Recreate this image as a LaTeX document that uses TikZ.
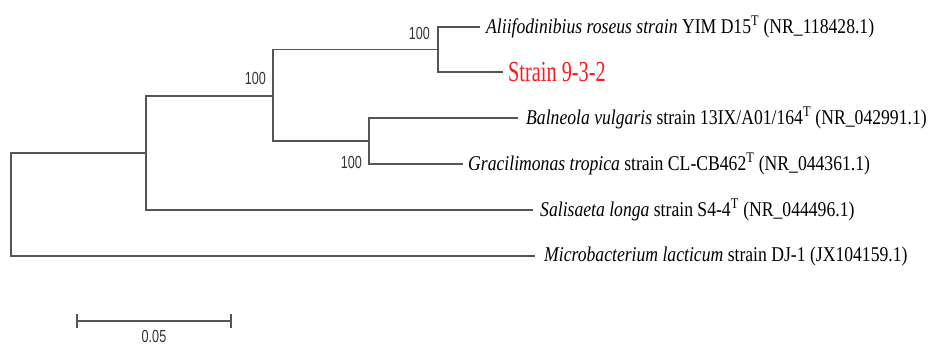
\documentclass[tikz,border=0pt]{standalone}
\usepackage{fontspec}
\setmainfont{Liberation Serif}
\newfontfamily\taxonfont[FakeStretch=0.84]{Liberation Serif}
\newfontfamily\strainfont[FakeStretch=0.70]{Liberation Serif}
\newfontfamily\bootfont[FakeStretch=0.72]{Liberation Sans}
\usepackage{xcolor}
\definecolor{branchgray}{HTML}{555555}
\definecolor{bootgray}{HTML}{333333}
\definecolor{strainred}{HTML}{FF1A1A}
\usetikzlibrary{positioning}
\tikzset{
  branch/.style={draw=branchgray, line width=1.2pt},
  taxon/.style ={anchor=west, inner sep=0pt, text=black, font=\taxonfont\fontsize{21}{21}\selectfont},
  taxonr/.style={anchor=west, inner sep=0pt, text=strainred, font=\strainfont\fontsize{29}{29}\selectfont},
  boot/.style  ={inner sep=0pt, text=bootgray, font=\bootfont\fontsize{17.5}{17.5}\selectfont},
}
\newcommand{\typeT}{\textsuperscript{T}}

\begin{document}
\begin{tikzpicture}[x=1pt, y=-1pt]
  \useasboundingbox (0,0) rectangle (928,347);
  % internal nodes
  \coordinate (root) at (11,204.5);
  \coordinate (nA) at (146,153);
  \coordinate (nB) at (273,96);
  \coordinate (nC) at (438,49.5);
  \coordinate (nD) at (369,141);
  % tips
  \coordinate (t1) at (480,27);
  \coordinate (t2) at (503,72);
  \coordinate (t3) at (518,118);
  \coordinate (t4) at (463,164);
  \coordinate (t5) at (533,210);
  \coordinate (t6) at (535,256);
  % branches
  \draw[branch] (root) |- (nA); \draw[branch] (root) |- (t6);
  \draw[branch] (nA) |- (nB);   \draw[branch] (nA) |- (t5);
  \draw[branch] (nB) |- (nC);   \draw[branch] (nB) |- (nD);
  \draw[branch] (nC) |- (t1);   \draw[branch] (nC) |- (t2);
  \draw[branch] (nD) |- (t3);   \draw[branch] (nD) |- (t4);
  % labels
  \node[taxon, right=6pt of t1] (l1) {\textit{Aliifodinibius roseus strain} YIM D15\typeT{} (NR\_118428.1)};
  \node[taxonr, right=5pt of t2] (l2) {Strain 9-3-2};
  \node[taxon, right=8pt of t3] (l3) {\textit{Balneola vulgaris} strain 13IX/A01/164\typeT{} (NR\_042991.1)};
  \node[taxon, right=5pt of t4] (l4) {\textit{Gracilimonas tropica} strain CL-CB462\typeT{} (NR\_044361.1)};
  \node[taxon, right=7pt of t5] (l5) {\textit{Salisaeta longa} strain S4-4\typeT{} (NR\_044496.1)};
  \node[taxon, right=9pt of t6] (l6) {\textit{Microbacterium lacticum} strain DJ-1 (JX104159.1)};
  % bootstrap values
  \node[boot, anchor=east] (b1) at ([xshift=-8pt, yshift=-6pt]nC |- t1) {100};
  \node[boot, anchor=east] (b2) at ([xshift=-7pt, yshift=18pt]nB) {100};
  \node[boot, anchor=east] (b3) at ([xshift=-7pt, yshift=2pt]nD |- t4) {100};
  % scale bar
  \coordinate (s0) at (77,321);
  \coordinate (s1) at (231,321);
  \coordinate (smid) at (154,321);
  \draw[branch] (s0) -- (s1);
  \draw[branch] ([yshift=-7pt]s0) -- ([yshift=7pt]s0);
  \draw[branch] ([yshift=-7pt]s1) -- ([yshift=7pt]s1);
  \node[boot, anchor=north] (sl) at ([yshift=-9pt]smid) {0.05};
\end{tikzpicture}
\end{document}
